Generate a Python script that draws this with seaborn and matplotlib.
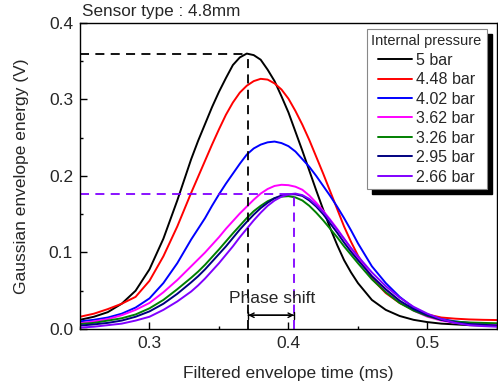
import matplotlib
matplotlib.use("Agg")
import matplotlib.pyplot as plt
from matplotlib.patches import Rectangle
from matplotlib.ticker import MultipleLocator
import pandas as pd
import seaborn as sns

# values (finer sampling around the peaks)
time_ms = [0.25, 0.26, 0.27, 0.28, 0.29, 0.30, 0.31, 0.32, 0.33,
           0.335, 0.34, 0.345, 0.35, 0.355, 0.36, 0.365, 0.37, 0.375, 0.38, 0.385,
           0.39, 0.395, 0.40, 0.405, 0.41, 0.415, 0.42, 0.425, 0.43, 0.435, 0.44, 0.445,
           0.45, 0.46, 0.47, 0.48, 0.49, 0.50, 0.51, 0.52, 0.53, 0.54, 0.55]

bar_5_00 = [0.012, 0.016, 0.022, 0.033, 0.050, 0.078, 0.118, 0.168, 0.222,
            0.246, 0.268, 0.290, 0.310, 0.328, 0.345, 0.355, 0.360, 0.358, 0.352, 0.339,
            0.324, 0.304, 0.283, 0.258, 0.233, 0.207, 0.181, 0.156, 0.132, 0.110, 0.090, 0.074,
            0.060, 0.038, 0.025, 0.017, 0.012, 0.009, 0.007, 0.006, 0.005, 0.0045, 0.0044]
bar_4_48 = [0.016, 0.020, 0.026, 0.033, 0.042, 0.063, 0.095, 0.134, 0.178,
            0.199, 0.220, 0.241, 0.261, 0.280, 0.296, 0.309, 0.318, 0.324, 0.327, 0.326,
            0.321, 0.313, 0.301, 0.285, 0.267, 0.247, 0.225, 0.203, 0.180, 0.157, 0.134, 0.114,
            0.096, 0.066, 0.047, 0.034, 0.025, 0.019, 0.015, 0.0135, 0.0125, 0.012, 0.0117]
bar_4_02 = [0.010, 0.012, 0.015, 0.020, 0.028, 0.040, 0.060, 0.086, 0.117,
            0.131, 0.145, 0.161, 0.176, 0.190, 0.203, 0.216, 0.228, 0.236, 0.241, 0.244,
            0.245, 0.243, 0.239, 0.232, 0.222, 0.212, 0.200, 0.187, 0.174, 0.160, 0.145, 0.129,
            0.112, 0.082, 0.060, 0.042, 0.028, 0.018, 0.013, 0.010, 0.008, 0.007, 0.006]
bar_3_62 = [0.0075, 0.010, 0.013, 0.018, 0.025, 0.034, 0.048, 0.064, 0.082,
            0.091, 0.100, 0.110, 0.120, 0.131, 0.141, 0.151, 0.160, 0.169, 0.177, 0.183,
            0.187, 0.1885, 0.188, 0.186, 0.182, 0.1745, 0.165, 0.1545, 0.143, 0.131, 0.118, 0.105,
            0.093, 0.069, 0.051, 0.036, 0.024, 0.016, 0.011, 0.008, 0.0065, 0.006, 0.0055]
bar_3_26 = [0.0065, 0.008, 0.011, 0.014, 0.019, 0.027, 0.038, 0.052, 0.067,
            0.075, 0.084, 0.094, 0.104, 0.1145, 0.125, 0.135, 0.145, 0.154, 0.161, 0.167,
            0.171, 0.173, 0.1736, 0.172, 0.168, 0.161, 0.152, 0.142, 0.131, 0.120, 0.108, 0.097,
            0.086, 0.065, 0.048, 0.034, 0.024, 0.017, 0.012, 0.0095, 0.0085, 0.008, 0.0075]
bar_2_95 = [0.0045, 0.006, 0.008, 0.011, 0.016, 0.023, 0.033, 0.046, 0.061,
            0.069, 0.078, 0.088, 0.098, 0.108, 0.119, 0.130, 0.140, 0.1495, 0.158, 0.165,
            0.171, 0.1745, 0.176, 0.176, 0.174, 0.168, 0.160, 0.150, 0.138, 0.126, 0.113, 0.101,
            0.090, 0.069, 0.052, 0.037, 0.026, 0.018, 0.012, 0.0085, 0.0065, 0.0055, 0.0045]
bar_2_66 = [0.0018, 0.003, 0.005, 0.007, 0.011, 0.016, 0.025, 0.036, 0.049,
            0.057, 0.066, 0.076, 0.086, 0.097, 0.108, 0.120, 0.131, 0.142, 0.152, 0.161,
            0.168, 0.173, 0.176, 0.177, 0.175, 0.170, 0.162, 0.153, 0.142, 0.130, 0.118, 0.106,
            0.095, 0.074, 0.056, 0.041, 0.029, 0.020, 0.013, 0.008, 0.005, 0.0038, 0.003]

pressure_labels = ["5 bar", "4.48 bar", "4.02 bar", "3.62 bar", "3.26 bar", "2.95 bar", "2.66 bar"]
series = [bar_5_00, bar_4_48, bar_4_02, bar_3_62, bar_3_26, bar_2_95, bar_2_66]
line_colors = ["#000000", "#ff0000", "#0000ff", "#ff00ff", "#008000", "#000080", "#8000ff"]

# peak markers for the phase shift annotation
peak_5bar = (0.371, 0.360)
peak_266bar = (0.404, 0.176)

sns.set_style("ticks")
plt.rcParams["font.family"] = ["Liberation Sans", "DejaVu Sans"]
plt.rcParams["xtick.direction"] = "in"
plt.rcParams["ytick.direction"] = "in"

frames = []
for label, vals in zip(pressure_labels, series):
    frames.append(pd.DataFrame({"time": time_ms, "energy": vals, "pressure": label}))
data = pd.concat(frames, ignore_index=True)

fig = plt.figure(figsize=(4.98, 3.83), dpi=100)
ax = fig.add_axes([0.1606, 0.141, 0.8373, 0.799])

sns.lineplot(data=data, x="time", y="energy", hue="pressure",
             hue_order=pressure_labels, palette=dict(zip(pressure_labels, line_colors)),
             linewidth=1.4, legend=False, ax=ax)
curve_lines = list(ax.get_lines())

# dashed guide lines at the two peaks
dash = (0, (5, 3.5))
ax.plot([0.25, peak_5bar[0]], [peak_5bar[1], peak_5bar[1]], ls=dash, color="k", lw=1.3)
ax.plot([peak_5bar[0], peak_5bar[0]], [0, peak_5bar[1]], ls=dash, color="k", lw=1.3)
ax.plot([0.25, peak_266bar[0]], [peak_266bar[1], peak_266bar[1]], ls=dash, color="#8000ff", lw=1.3)
ax.plot([peak_266bar[0], peak_266bar[0]], [0, peak_266bar[1]], ls=dash, color="#8000ff", lw=1.3)

ax.annotate("", xy=(peak_266bar[0], 0.018), xytext=(peak_5bar[0], 0.018),
            arrowprops=dict(arrowstyle="<->", lw=1.0, color="k", shrinkA=0, shrinkB=0,
                            mutation_scale=8))
ax.annotate("", xy=(peak_266bar[0], 0.018), xytext=(peak_5bar[0], 0.018),
            arrowprops=dict(arrowstyle="|-|,widthA=0.25,widthB=0.25", lw=1.0, color="k",
                            shrinkA=0, shrinkB=0))
ax.text(0.388, 0.040, "Phase shift", ha="center", va="center", fontsize=12.5)

ax.set_xlim(0.25, 0.55)
ax.set_ylim(0.0, 0.4)
ax.set_xticks([0.3, 0.4, 0.5])
ax.set_yticks([0.0, 0.1, 0.2, 0.3, 0.4])
ax.xaxis.set_minor_locator(MultipleLocator(0.05))
ax.yaxis.set_minor_locator(MultipleLocator(0.05))
ax.tick_params(which="major", length=5, width=1.0, labelsize=12.5, color="k", pad=5)
ax.tick_params(which="minor", length=2.5, width=1.0, color="k")
ax.tick_params(top=False, right=False)
for sp in ax.spines.values():
    sp.set_color("k")
    sp.set_linewidth(1.0)

ax.set_xlabel("Filtered envelope time (ms)", fontsize=12.5, labelpad=11)
ax.set_ylabel("Gaussian envelope energy (V)", fontsize=12.5, labelpad=14)

fig.text(0.164, 0.969, "Sensor type : 4.8mm", ha="left", va="center", fontsize=12.3)

leg = ax.legend(curve_lines, pressure_labels, title="Internal pressure",
                loc="upper right", bbox_to_anchor=(0.975, 0.979), frameon=True,
                fancybox=False, edgecolor="#888888", framealpha=1, fontsize=11.5,
                title_fontsize=10.5, handlelength=2.1, handletextpad=0.25,
                labelspacing=0.28, borderpad=0.3, borderaxespad=0)
leg.get_frame().set_linewidth(0.8)

# solid black drop shadow behind the legend box
fig.canvas.draw()
bb = leg.get_window_extent()
inv = fig.transFigure.inverted()
(x0, y0), (x1, y1) = inv.transform([(bb.x0 + 5, bb.y0 - 5), (bb.x1 + 5, bb.y1 - 5)])
ax.add_patch(Rectangle((x0, y0), x1 - x0, y1 - y0, transform=fig.transFigure,
                       facecolor="k", edgecolor="k", zorder=4, clip_on=False))

fig.savefig("out.png", dpi=100)
